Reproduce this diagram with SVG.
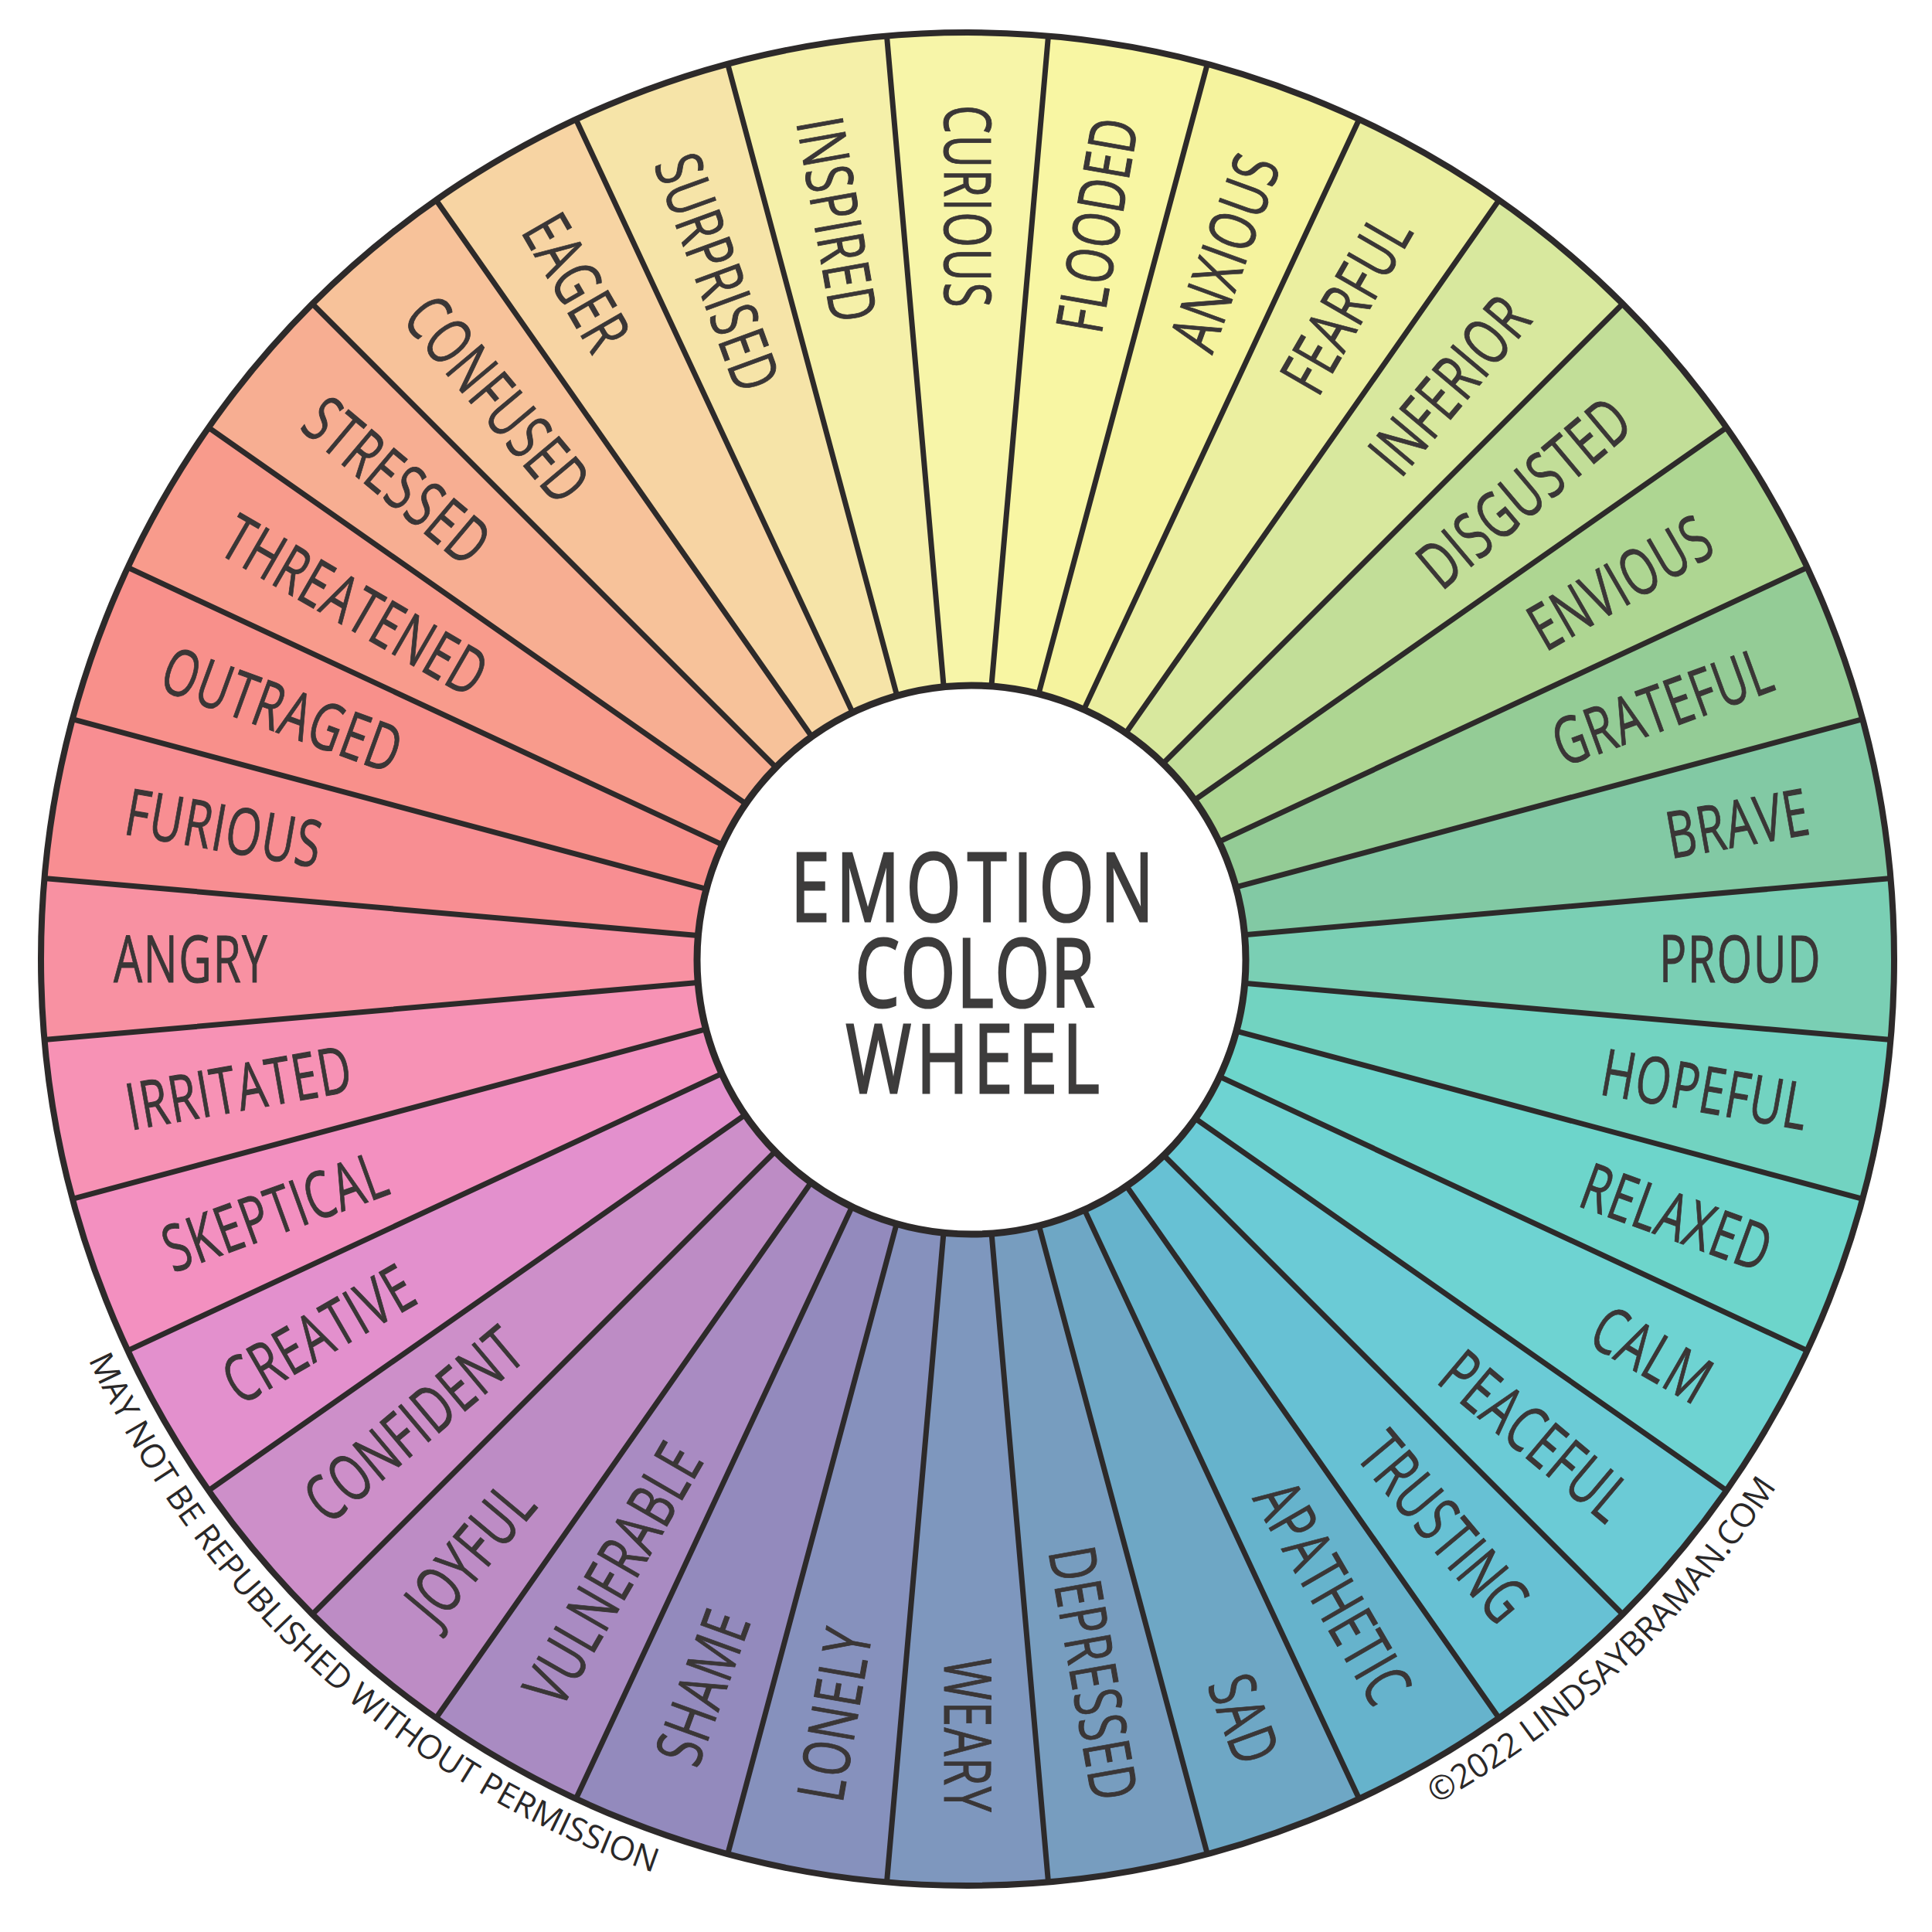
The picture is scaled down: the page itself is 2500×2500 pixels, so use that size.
<svg xmlns="http://www.w3.org/2000/svg" xmlns:xlink="http://www.w3.org/1999/xlink" width="2500" height="2500" viewBox="0 0 2500 2500">
<style>
.lb{font-family:"Open Sans","Liberation Sans",sans-serif;font-size:84px;fill:#3a3636;stroke:#3a3636;stroke-width:1px;letter-spacing:2px}
.r{text-anchor:end}
.l{text-anchor:start}
.tt{font-family:"Open Sans","Liberation Sans",sans-serif;font-size:122px;fill:#3d3c3c;stroke:#3d3c3c;stroke-width:3px;text-anchor:middle}
.cr{font-family:"Open Sans","Liberation Sans",sans-serif;font-size:43px;fill:#2a2828}
</style>
<defs>
<path id="sector" d="M1147.50 46.56 A1199 1199 0 0 1 1356.50 46.56 L1281.63 902.29 A340 340 0 0 0 1222.37 902.29 Z"/>
<line id="div" x1="1252" y1="890" x2="1252" y2="44"/>
<path id="arcL" d="M114.5 1759.4 A1252 1252 0 0 0 1034.9 2472.0"/>
<path id="arcR" d="M1858 2334.3 A1252 1252 0 0 0 2384.9 1769.3"/>
</defs>
<rect width="2500" height="2500" fill="#ffffff"/>
<g id="n-curious"><use href="#sector" fill="#f7f5a8"/><text class="lb l" transform="translate(1252 136) rotate(90) scale(0.7 1)" dy="0.36em">CURIOUS</text></g>
<g id="n-flooded" transform="rotate(10 1252 1241)"><use href="#sector" fill="#f8f6a3"/><text class="lb r" transform="translate(1252 136) rotate(-90) scale(0.7 1)" dy="0.36em">FLOODED</text></g>
<g id="n-anxious" transform="rotate(20 1252 1241)"><use href="#sector" fill="#f5f39e"/><text class="lb r" transform="translate(1252 136) rotate(-90) scale(0.7 1)" dy="0.36em">ANXIOUS</text></g>
<g id="n-fearful" transform="rotate(30 1252 1241)"><use href="#sector" fill="#ebefa0"/><text class="lb r" transform="translate(1252 136) rotate(-90) scale(0.7 1)" dy="0.36em">FEARFUL</text></g>
<g id="n-inferior" transform="rotate(40 1252 1241)"><use href="#sector" fill="#d8e89e"/><text class="lb r" transform="translate(1252 136) rotate(-90) scale(0.7 1)" dy="0.36em">INFERIOR</text></g>
<g id="n-disgusted" transform="rotate(50 1252 1241)"><use href="#sector" fill="#c2de98"/><text class="lb r" transform="translate(1252 136) rotate(-90) scale(0.7 1)" dy="0.36em">DISGUSTED</text></g>
<g id="n-envious" transform="rotate(60 1252 1241)"><use href="#sector" fill="#aed692"/><text class="lb r" transform="translate(1252 136) rotate(-90) scale(0.7 1)" dy="0.36em">ENVIOUS</text></g>
<g id="n-grateful" transform="rotate(70 1252 1241)"><use href="#sector" fill="#94cc96"/><text class="lb r" transform="translate(1252 136) rotate(-90) scale(0.7 1)" dy="0.36em">GRATEFUL</text></g>
<g id="n-brave" transform="rotate(80 1252 1241)"><use href="#sector" fill="#82c9a4"/><text class="lb r" transform="translate(1252 136) rotate(-90) scale(0.7 1)" dy="0.36em">BRAVE</text></g>
<g id="n-proud" transform="rotate(90 1252 1241)"><use href="#sector" fill="#7acfb4"/><text class="lb r" transform="translate(1252 136) rotate(-90) scale(0.7 1)" dy="0.36em">PROUD</text></g>
<g id="n-hopeful" transform="rotate(100 1252 1241)"><use href="#sector" fill="#72d3c1"/><text class="lb r" transform="translate(1252 136) rotate(-90) scale(0.7 1)" dy="0.36em">HOPEFUL</text></g>
<g id="n-relaxed" transform="rotate(110 1252 1241)"><use href="#sector" fill="#6dd5cb"/><text class="lb r" transform="translate(1252 136) rotate(-90) scale(0.7 1)" dy="0.36em">RELAXED</text></g>
<g id="n-calm" transform="rotate(120 1252 1241)"><use href="#sector" fill="#6ed3d2"/><text class="lb r" transform="translate(1252 136) rotate(-90) scale(0.7 1)" dy="0.36em">CALM</text></g>
<g id="n-peaceful" transform="rotate(130 1252 1241)"><use href="#sector" fill="#6bcbd6"/><text class="lb r" transform="translate(1252 136) rotate(-90) scale(0.7 1)" dy="0.36em">PEACEFUL</text></g>
<g id="n-trusting" transform="rotate(140 1252 1241)"><use href="#sector" fill="#67c1d4"/><text class="lb r" transform="translate(1252 136) rotate(-90) scale(0.7 1)" dy="0.36em">TRUSTING</text></g>
<g id="n-apathetic" transform="rotate(150 1252 1241)"><use href="#sector" fill="#66b3cc"/><text class="lb r" transform="translate(1252 136) rotate(-90) scale(0.7 1)" dy="0.36em">APATHETIC</text></g>
<g id="n-sad" transform="rotate(160 1252 1241)"><use href="#sector" fill="#6ea7c5"/><text class="lb r" transform="translate(1252 136) rotate(-90) scale(0.7 1)" dy="0.36em">SAD</text></g>
<g id="n-depressed" transform="rotate(170 1252 1241)"><use href="#sector" fill="#779dbf"/><text class="lb r" transform="translate(1252 136) rotate(-90) scale(0.7 1)" dy="0.36em">DEPRESSED</text></g>
<g id="n-weary" transform="rotate(180 1252 1241)"><use href="#sector" fill="#7e97be"/><text class="lb r" transform="translate(1252 136) rotate(-90) scale(0.7 1)" dy="0.36em">WEARY</text></g>
<g id="n-lonely" transform="rotate(190 1252 1241)"><use href="#sector" fill="#8691bd"/><text class="lb l" transform="translate(1252 136) rotate(90) scale(0.7 1)" dy="0.36em">LONELY</text></g>
<g id="n-shame" transform="rotate(200 1252 1241)"><use href="#sector" fill="#938abd"/><text class="lb l" transform="translate(1252 136) rotate(90) scale(0.7 1)" dy="0.36em">SHAME</text></g>
<g id="n-vulnerable" transform="rotate(210 1252 1241)"><use href="#sector" fill="#a98bc2"/><text class="lb l" transform="translate(1252 136) rotate(90) scale(0.7 1)" dy="0.36em">VULNERABLE</text></g>
<g id="n-joyful" transform="rotate(220 1252 1241)"><use href="#sector" fill="#bd8cc5"/><text class="lb l" transform="translate(1252 136) rotate(90) scale(0.7 1)" dy="0.36em">JOYFUL</text></g>
<g id="n-confident" transform="rotate(230 1252 1241)"><use href="#sector" fill="#cd8fc9"/><text class="lb l" transform="translate(1252 136) rotate(90) scale(0.7 1)" dy="0.36em">CONFIDENT</text></g>
<g id="n-creative" transform="rotate(240 1252 1241)"><use href="#sector" fill="#e390cd"/><text class="lb l" transform="translate(1252 136) rotate(90) scale(0.7 1)" dy="0.36em">CREATIVE</text></g>
<g id="n-skeptical" transform="rotate(250 1252 1241)"><use href="#sector" fill="#f390c0"/><text class="lb l" transform="translate(1252 136) rotate(90) scale(0.7 1)" dy="0.36em">SKEPTICAL</text></g>
<g id="n-irritated" transform="rotate(260 1252 1241)"><use href="#sector" fill="#f792b5"/><text class="lb l" transform="translate(1252 136) rotate(90) scale(0.7 1)" dy="0.36em">IRRITATED</text></g>
<g id="n-angry" transform="rotate(270 1252 1241)"><use href="#sector" fill="#f891a2"/><text class="lb l" transform="translate(1252 136) rotate(90) scale(0.7 1)" dy="0.36em">ANGRY</text></g>
<g id="n-furious" transform="rotate(280 1252 1241)"><use href="#sector" fill="#f88e92"/><text class="lb l" transform="translate(1252 136) rotate(90) scale(0.7 1)" dy="0.36em">FURIOUS</text></g>
<g id="n-outraged" transform="rotate(290 1252 1241)"><use href="#sector" fill="#f8908b"/><text class="lb l" transform="translate(1252 136) rotate(90) scale(0.7 1)" dy="0.36em">OUTRAGED</text></g>
<g id="n-threatened" transform="rotate(300 1252 1241)"><use href="#sector" fill="#f89b8c"/><text class="lb l" transform="translate(1252 136) rotate(90) scale(0.7 1)" dy="0.36em">THREATENED</text></g>
<g id="n-stressed" transform="rotate(310 1252 1241)"><use href="#sector" fill="#f7ae92"/><text class="lb l" transform="translate(1252 136) rotate(90) scale(0.7 1)" dy="0.36em">STRESSED</text></g>
<g id="n-confused" transform="rotate(320 1252 1241)"><use href="#sector" fill="#f7c29a"/><text class="lb l" transform="translate(1252 136) rotate(90) scale(0.7 1)" dy="0.36em">CONFUSED</text></g>
<g id="n-eager" transform="rotate(330 1252 1241)"><use href="#sector" fill="#f7d4a3"/><text class="lb l" transform="translate(1252 136) rotate(90) scale(0.7 1)" dy="0.36em">EAGER</text></g>
<g id="n-surprised" transform="rotate(340 1252 1241)"><use href="#sector" fill="#f6e4a8"/><text class="lb l" transform="translate(1252 136) rotate(90) scale(0.7 1)" dy="0.36em">SURPRISED</text></g>
<g id="n-inspired" transform="rotate(350 1252 1241)"><use href="#sector" fill="#f5f0a9"/><text class="lb l" transform="translate(1252 136) rotate(90) scale(0.7 1)" dy="0.36em">INSPIRED</text></g>
<g id="dividers" stroke="#2d2a2a" stroke-width="7" stroke-linecap="round">
<use href="#div" transform="rotate(5 1252 1241)"/><use href="#div" transform="rotate(15 1252 1241)"/><use href="#div" transform="rotate(25 1252 1241)"/><use href="#div" transform="rotate(35 1252 1241)"/><use href="#div" transform="rotate(45 1252 1241)"/><use href="#div" transform="rotate(55 1252 1241)"/><use href="#div" transform="rotate(65 1252 1241)"/><use href="#div" transform="rotate(75 1252 1241)"/><use href="#div" transform="rotate(85 1252 1241)"/><use href="#div" transform="rotate(95 1252 1241)"/><use href="#div" transform="rotate(105 1252 1241)"/><use href="#div" transform="rotate(115 1252 1241)"/><use href="#div" transform="rotate(125 1252 1241)"/><use href="#div" transform="rotate(135 1252 1241)"/><use href="#div" transform="rotate(145 1252 1241)"/><use href="#div" transform="rotate(155 1252 1241)"/><use href="#div" transform="rotate(165 1252 1241)"/><use href="#div" transform="rotate(175 1252 1241)"/><use href="#div" transform="rotate(185 1252 1241)"/><use href="#div" transform="rotate(195 1252 1241)"/><use href="#div" transform="rotate(205 1252 1241)"/><use href="#div" transform="rotate(215 1252 1241)"/><use href="#div" transform="rotate(225 1252 1241)"/><use href="#div" transform="rotate(235 1252 1241)"/><use href="#div" transform="rotate(245 1252 1241)"/><use href="#div" transform="rotate(255 1252 1241)"/><use href="#div" transform="rotate(265 1252 1241)"/><use href="#div" transform="rotate(275 1252 1241)"/><use href="#div" transform="rotate(285 1252 1241)"/><use href="#div" transform="rotate(295 1252 1241)"/><use href="#div" transform="rotate(305 1252 1241)"/><use href="#div" transform="rotate(315 1252 1241)"/><use href="#div" transform="rotate(325 1252 1241)"/><use href="#div" transform="rotate(335 1252 1241)"/><use href="#div" transform="rotate(345 1252 1241)"/><use href="#div" transform="rotate(355 1252 1241)"/>
</g>
<circle id="rim" cx="1252" cy="1241" r="1199" fill="none" stroke="#2d2a2a" stroke-width="8"/>
<g id="title">
<circle cx="1257" cy="1242" r="355" fill="#ffffff" stroke="#2d2a2a" stroke-width="9"/>
<text class="tt" transform="translate(1262 0) scale(0.75 1)"><tspan x="0" y="1192" letter-spacing="11">EMOTION</tspan><tspan x="0" y="1303" letter-spacing="2">COLOR</tspan><tspan x="0" y="1414" letter-spacing="9">WHEEL</tspan></text>
</g>
<g id="credits">
<text class="cr"><textPath href="#arcL">MAY NOT BE REPUBLISHED WITHOUT PERMISSION</textPath></text>
<text class="cr"><textPath href="#arcR">©2022 LINDSAYBRAMAN.COM</textPath></text>
</g>
</svg>
